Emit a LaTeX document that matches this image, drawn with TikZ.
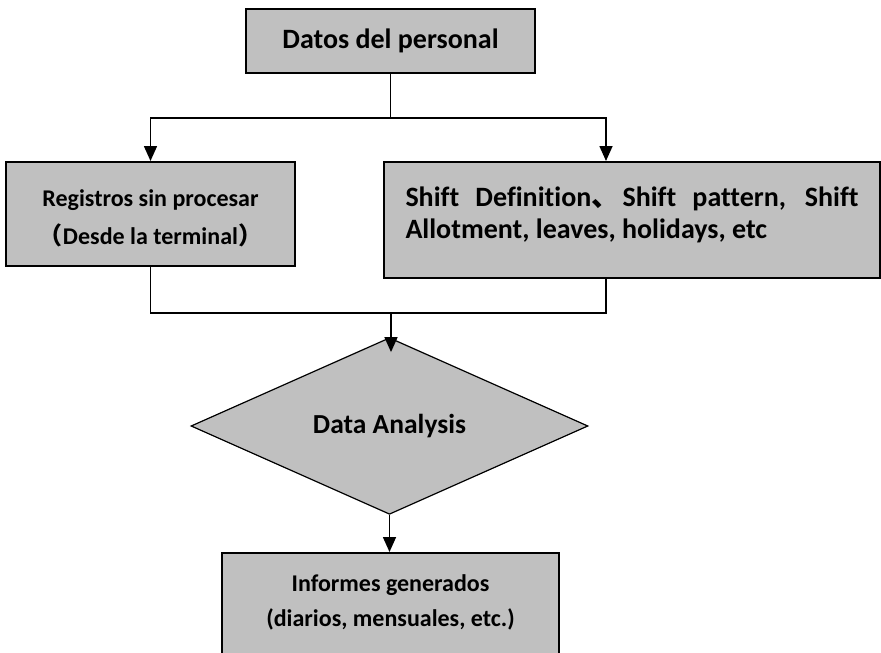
\documentclass[tikz,border=0pt]{standalone}
\usepackage{fontspec}
\setmainfont{Carlito}[Ligatures=NoCommon]
\newfontfamily\cjk{Noto Sans CJK SC}
\usetikzlibrary{arrows.meta,shapes.geometric,calc}
\definecolor{BoxGray}{HTML}{C0C0C0}

\begin{document}
\begin{tikzpicture}[x=1pt, y=-1pt,
    box/.style={draw=black, line width=2pt, fill=BoxGray, inner sep=0pt},
    link/.style={black, line width=1.6pt},
    arrow/.style={link, -{Triangle[length=15pt, width=13pt]}}]
\useasboundingbox (0,0) rectangle (881,653);

\node[box, minimum width=289pt, minimum height=64pt,
      font=\bfseries\fontsize{28}{34}\selectfont] (personal) at (390.5,41) {Datos del personal};

\node[box, minimum width=289pt, minimum height=104pt, align=center,
      font=\bfseries\fontsize{24}{38}\selectfont] (registros) at (150.5,214)
      {\rule{0pt}{26pt}Registros sin procesar\\{\cjk （}Desde la terminal{\cjk ）}};

\node[box, minimum width=496pt, minimum height=116pt, text width=453pt, align=justify,
      font=\bfseries\fontsize{28}{32}\selectfont] (shifts) at (632,220)
      {Shift Definition\makebox[15pt][l]{\cjk 、} Shift pattern, Shift\linebreak Allotment, leaves, holidays, etc\rule[-14pt]{0pt}{0pt}};

\node[diamond, draw=black, line width=1.2pt, fill=BoxGray, inner sep=0pt,
      minimum width=397pt, minimum height=130pt,
      font=\bfseries\fontsize{27.5}{33}\selectfont] (analysis) at (389.5,426) {Data Analysis};

\node[box, anchor=north, minimum width=337pt, minimum height=130pt, align=center,
      font=\bfseries\fontsize{24}{35}\selectfont] (informes) at (390.5,552)
      {Informes generados\\(diarios, mensuales, etc.)\rule[-34pt]{0pt}{0pt}};

\coordinate (split) at (390.5,118);
\coordinate (merge) at (391,313);
\path (shifts.north west) ++(223,0) coordinate (shiftin);
\path (shifts.south west) ++(223,0) coordinate (shiftout);

\draw[link] (personal) -- (split);
\draw[arrow] (split) -| (registros.north);
\draw[arrow] (split) -| (shiftin);
\draw[link] (registros.south) |- (merge) -| (shiftout);
\draw[arrow] (merge) -- ($(merge |- analysis.north)+(0,15)$);
\draw[arrow] (analysis.south) -- (analysis.south |- informes.north);

\end{tikzpicture}
\end{document}
